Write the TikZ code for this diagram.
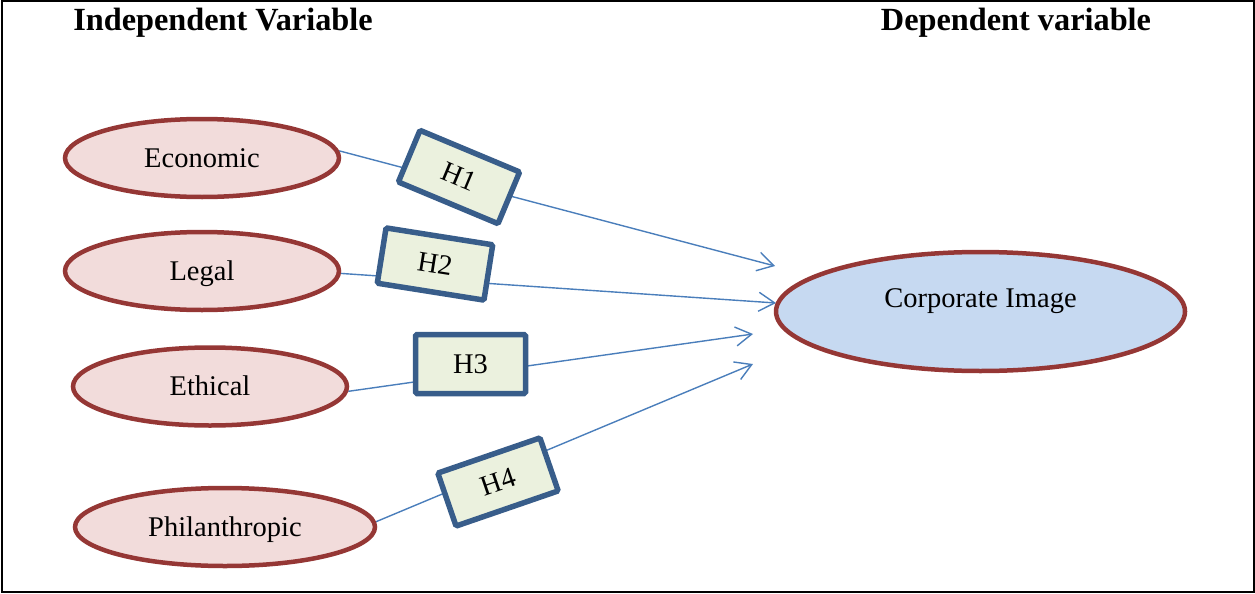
\documentclass[tikz,border=0pt]{standalone}
\usepackage{fontspec}
\setmainfont{Liberation Serif}
\usetikzlibrary{shapes.geometric,arrows.meta}
\pgfdeclarelayer{bg}
\pgfsetlayers{bg,main}
\definecolor{ellred}{HTML}{953735}
\definecolor{ellfill}{HTML}{F2DCDB}
\definecolor{corpfill}{HTML}{C6D9F1}
\definecolor{boxblue}{HTML}{385D8A}
\definecolor{boxfill}{HTML}{EBF1DE}
\definecolor{linkblue}{HTML}{4A7EBB}
\tikzset{
  ivar/.style={ellipse, draw=ellred, fill=ellfill, line width=4.5pt, inner sep=0pt,
    minimum width=274pt, minimum height=78pt, text height=19pt, text depth=1pt,
    font=\fontsize{28.5}{34}\selectfont},
  dvar/.style={ivar, fill=corpfill, minimum width=409pt, minimum height=119pt,
    text height=19pt, text depth=28pt},
  hbox/.style={rectangle, draw=boxblue, fill=boxfill, line width=5.5pt, rounded corners=1.5pt,
    minimum width=108pt, minimum height=56pt, inner sep=0pt,
    font=\fontsize{28.5}{34}\selectfont},
  conn/.style={draw=linkblue, line width=1.4pt, -{Straight Barb[length=16pt,width=19pt,line width=1.4pt]}},
  header/.style={font=\bfseries\fontsize{32.3}{36}\selectfont, inner sep=0pt}
}
\begin{document}
\begin{tikzpicture}[x=1pt,y=-1pt]
\useasboundingbox (0,0) rectangle (1255,594);
\draw[line width=2pt] (2,1) rectangle (1254,592);
\node[header] (hind) at (223,23) {Independent Variable};
\node[header] (hdep) at (1016,23) {Dependent variable};
\node[ivar] (econ) at (202,158) {Economic};
\node[ivar] (legal) at (202,271) {Legal};
\node[ivar] (ethic) at (210,386.5) {Ethical};
\node[ivar, minimum width=300pt] (phil) at (225,527) {Philanthropic};
\node[dvar] (corp) at (980.5,311.5) {Corporate Image};
\node[hbox, rotate=-22.7] (h1) at (459,177) {H1};
\node[hbox, rotate=-9] (h2) at (435,264) {H2};
\node[hbox, minimum width=110pt, minimum height=59pt] (h3) at (470.5,364) {H3};
\node[hbox, rotate=19] (h4) at (498,482) {H4};
\coordinate (t1) at (775,266);
\coordinate (t2) at (776,303);
\coordinate (t3) at (753,334);
\coordinate (t4) at (753,364);
\begin{pgfonlayer}{bg}
\draw[conn] (econ.3) -- (t1);
\draw[conn] (legal.-1) -- (t2);
\draw[conn] (ethic.-2) -- (t3);
\draw[conn] (phil.2) -- (t4);
\end{pgfonlayer}
\end{tikzpicture}
\end{document}
